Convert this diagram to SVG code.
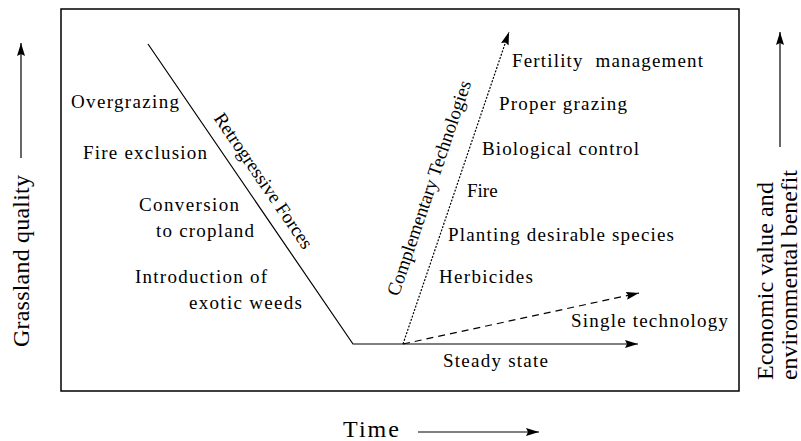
<svg xmlns="http://www.w3.org/2000/svg" width="801" height="441" viewBox="0 0 801 441">
<style>
text{font-family:"Liberation Serif","Times New Roman",serif;fill:#000}
.s{font-size:19px}
.b{font-size:24px}
.ln{stroke:#000;stroke-width:1.2;fill:none}
</style>
<defs>
<marker id="ah" viewBox="0 0 13 8" refX="13" refY="4" markerWidth="13" markerHeight="8" orient="auto" markerUnits="userSpaceOnUse">
<path d="M0,0 L13,4 L0,8 L2,4 z" fill="#000"/>
</marker>
</defs>
<rect x="61" y="9" width="678" height="382" fill="#fff" stroke="#000" stroke-width="1.5"/>
<g id="connectors">
<polyline class="ln" points="148,44 353,344 638,344" marker-end="url(#ah)"/>
<line class="ln" x1="403" y1="344" x2="509" y2="32" stroke-width="1" stroke-dasharray="2,1.5" marker-end="url(#ah)"/>
<line class="ln" x1="403" y1="344" x2="639" y2="293" stroke-dasharray="7,5" marker-end="url(#ah)"/>
<line class="ln" x1="21" y1="158" x2="21" y2="43" marker-end="url(#ah)"/>
<line class="ln" x1="780" y1="147" x2="780" y2="32" marker-end="url(#ah)"/>
<line class="ln" x1="418" y1="432" x2="539" y2="432" marker-end="url(#ah)"/>
</g>
<g id="axis-y-left"><text class="b" transform="translate(29,347) rotate(-90)" textLength="172" lengthAdjust="spacing">Grassland quality</text></g>
<g id="axis-y-right">
<text class="b" transform="translate(773,380) rotate(-90)" textLength="198" lengthAdjust="spacing">Economic value and</text>
<text class="b" transform="translate(797,380) rotate(-90)" textLength="210" lengthAdjust="spacing">environmental benefit</text>
</g>
<g id="axis-x"><text class="b" x="343" y="437" textLength="56" lengthAdjust="spacing">Time</text></g>
<g id="retrogressive">
<text class="s" transform="translate(258.3,184.2) rotate(55.65)" text-anchor="middle" textLength="160" lengthAdjust="spacing">Retrogressive Forces</text>
<text class="s" x="71" y="108" textLength="108" lengthAdjust="spacing">Overgrazing</text>
<text class="s" x="83" y="159" textLength="124" lengthAdjust="spacing">Fire exclusion</text>
<text class="s" x="139" y="211" textLength="100" lengthAdjust="spacing">Conversion</text>
<text class="s" x="156" y="237" textLength="98" lengthAdjust="spacing">to cropland</text>
<text class="s" x="135" y="283" textLength="132" lengthAdjust="spacing">Introduction of</text>
<text class="s" x="189" y="309" textLength="113" lengthAdjust="spacing">exotic weeds</text>
</g>
<g id="complementary">
<text class="s" transform="translate(435,190) rotate(-71.2)" text-anchor="middle" textLength="226" lengthAdjust="spacing">Complementary Technologies</text>
<text class="s" x="512" y="67" textLength="191" lengthAdjust="spacing" xml:space="preserve">Fertility  management</text>
<text class="s" x="499" y="110" textLength="128" lengthAdjust="spacing">Proper grazing</text>
<text class="s" x="482" y="155" textLength="157" lengthAdjust="spacing">Biological control</text>
<text class="s" x="467" y="197">Fire</text>
<text class="s" x="448" y="241" textLength="226" lengthAdjust="spacing">Planting desirable species</text>
<text class="s" x="439" y="283" textLength="94" lengthAdjust="spacing">Herbicides</text>
</g>
<g id="single"><text class="s" x="571" y="327" textLength="157" lengthAdjust="spacing">Single technology</text></g>
<g id="steady"><text class="s" x="443" y="367" textLength="105" lengthAdjust="spacing">Steady state</text></g>
</svg>
